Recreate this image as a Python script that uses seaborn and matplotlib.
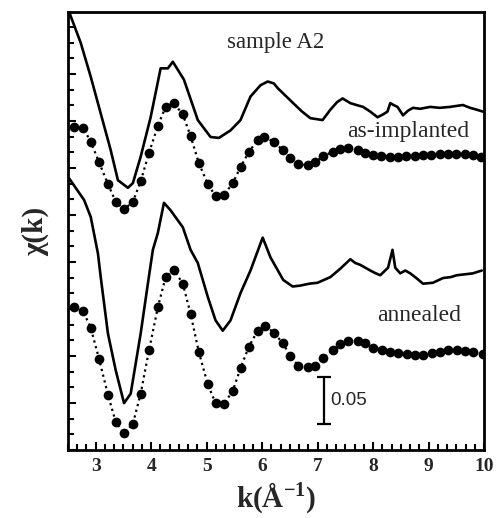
import numpy as np
import pandas as pd
import matplotlib
matplotlib.use("Agg")
import matplotlib.pyplot as plt
from matplotlib.ticker import MultipleLocator, AutoMinorLocator, NullFormatter
import seaborn as sns

# ---------------- data (chi relative to each curve's baseline) ----------------
k_exp_implanted = [2.52, 2.73, 2.91, 3.09, 3.27, 3.40, 3.58, 3.67, 3.81, 3.99, 4.17, 4.30, 4.39,
                   4.59, 4.84, 5.07, 5.22, 5.43, 5.61, 5.79, 5.97, 6.10, 6.21, 6.28, 6.42, 6.56,
                   6.72, 6.87, 7.09, 7.23, 7.35, 7.45, 7.59, 7.70, 7.82, 7.95, 8.08, 8.18, 8.26,
                   8.31, 8.37, 8.44, 8.54, 8.63, 8.72, 8.85, 9.03, 9.20, 9.39, 9.50, 9.62, 9.75,
                   9.87, 9.98]
chi_exp_implanted = [0.149, 0.116, 0.080, 0.041, 0.002, -0.030, -0.038, -0.033, -0.005, 0.037,
                     0.089, 0.089, 0.096, 0.077, 0.034, 0.016, 0.015, 0.023, 0.034, 0.059, 0.071,
                     0.075, 0.073, 0.068, 0.060, 0.052, 0.043, 0.036, 0.034, 0.045, 0.053, 0.057,
                     0.052, 0.050, 0.048, 0.043, 0.037, 0.040, 0.043, 0.052, 0.050, 0.048, 0.039,
                     0.044, 0.047, 0.046, 0.048, 0.047, 0.048, 0.049, 0.050, 0.047, 0.045, 0.043]

k_fit_implanted = [2.61, 2.77, 2.91, 3.06, 3.22, 3.36, 3.51, 3.67, 3.81, 3.96, 4.12, 4.26, 4.41,
                   4.57, 4.71, 4.86, 5.02, 5.16, 5.31, 5.47, 5.61, 5.76, 5.92, 6.03, 6.21, 6.37,
                   6.51, 6.65, 6.82, 6.96, 7.10, 7.27, 7.41, 7.55, 7.72, 7.86, 8.00, 8.15, 8.30,
                   8.45, 8.60, 8.75, 8.90, 9.05, 9.20, 9.35, 9.50, 9.65, 9.80, 9.95]
chi_fit_implanted = [0.027, 0.026, 0.011, -0.011, -0.034, -0.053, -0.061, -0.053, -0.031, -0.001,
                     0.028, 0.048, 0.052, 0.040, 0.017, -0.012, -0.034, -0.047, -0.046, -0.033,
                     -0.016, 0.000, 0.013, 0.016, 0.011, 0.002, -0.006, -0.013, -0.014, -0.011,
                     -0.004, 0.000, 0.003, 0.004, 0.002, -0.001, -0.003, -0.004, -0.005, -0.005,
                     -0.004, -0.004, -0.003, -0.003, -0.002, -0.002, -0.002, -0.002, -0.003, -0.005]

k_exp_annealed = [2.52, 2.79, 2.91, 3.04, 3.09, 3.22, 3.36, 3.51, 3.63, 3.81, 3.94, 4.03, 4.12,
                  4.23, 4.35, 4.57, 4.71, 4.84, 5.02, 5.16, 5.29, 5.43, 5.61, 5.79, 6.01, 6.15,
                  6.38, 6.55, 6.69, 6.85, 7.00, 7.23, 7.41, 7.59, 7.68, 7.77, 7.95, 8.05, 8.13,
                  8.27, 8.35, 8.40, 8.49, 8.58, 8.67, 8.78, 8.90, 9.08, 9.26, 9.40, 9.51, 9.66,
                  9.80, 9.96]
chi_exp_annealed = [0.185, 0.162, 0.144, 0.105, 0.080, 0.020, -0.019, -0.054, -0.044, 0.020,
                    0.073, 0.109, 0.127, 0.159, 0.151, 0.133, 0.109, 0.095, 0.059, 0.034, 0.023,
                    0.034, 0.063, 0.087, 0.122, 0.101, 0.077, 0.070, 0.071, 0.073, 0.074, 0.080,
                    0.089, 0.099, 0.095, 0.093, 0.087, 0.084, 0.082, 0.090, 0.109, 0.090, 0.084,
                    0.087, 0.084, 0.079, 0.073, 0.074, 0.079, 0.080, 0.082, 0.083, 0.084, 0.087]

k_fit_annealed = [2.61, 2.77, 2.91, 3.06, 3.22, 3.36, 3.51, 3.67, 3.81, 3.96, 4.12, 4.26, 4.41,
                  4.57, 4.71, 4.86, 5.02, 5.16, 5.31, 5.47, 5.61, 5.76, 5.92, 6.06, 6.21, 6.37,
                  6.51, 6.65, 6.82, 6.96, 7.10, 7.27, 7.41, 7.55, 7.72, 7.86, 8.00, 8.17, 8.31,
                  8.45, 8.62, 8.76, 8.90, 9.06, 9.21, 9.35, 9.51, 9.66, 9.80, 9.98]
chi_fit_annealed = [0.048, 0.044, 0.026, -0.007, -0.045, -0.074, -0.086, -0.076, -0.044, 0.002,
                    0.048, 0.080, 0.088, 0.073, 0.041, 0.000, -0.034, -0.054, -0.055, -0.041,
                    -0.017, 0.006, 0.023, 0.028, 0.021, 0.010, -0.004, -0.014, -0.016, -0.014,
                    -0.006, 0.002, 0.009, 0.012, 0.012, 0.010, 0.005, 0.003, 0.000, -0.001,
                    -0.002, -0.003, -0.003, -0.001, 0.000, 0.002, 0.002, 0.001, 0.000, -0.002]

offset_implanted = 0.317
offset_annealed = 0.104
x_ticks = [3, 4, 5, 6, 7, 8, 9, 10]
scale_bar = 0.05

# ---------------- plot ----------------
sns.set_style("ticks")
plt.rcParams["font.family"] = ["Liberation Serif", "DejaVu Serif"]

fig = plt.figure(figsize=(5.0, 5.18), dpi=100)
ax = fig.add_axes([0.136, 0.131, 0.832, 0.846])

def solid(k, chi, off):
    df = pd.DataFrame({"k": k, "chi": np.asarray(chi) + off})
    sns.lineplot(data=df, x="k", y="chi", ax=ax, color="black", lw=1.9, sort=False)

def fit(k, chi, off):
    df = pd.DataFrame({"k": k, "chi": np.asarray(chi) + off})
    sns.lineplot(data=df, x="k", y="chi", ax=ax, color="black", lw=1.6, linestyle=":",
                 marker="o", markersize=7.0, markeredgewidth=0, sort=False)

solid(k_exp_implanted, chi_exp_implanted, offset_implanted)
fit(k_fit_implanted, chi_fit_implanted, offset_implanted)
solid(k_exp_annealed, chi_exp_annealed, offset_annealed)
fit(k_fit_annealed, chi_fit_annealed, offset_annealed)

ax.set_xlim(2.5, 10)
ax.set_ylim(0, 0.466)

# scale bar
ax.errorbar([7.12], [0.0527], yerr=[scale_bar / 2], color="black", capsize=5,
            elinewidth=1.6, capthick=1.6)
ax.text(7.22, 0.0527, "0.05", family=["Liberation Sans", "DejaVu Sans"], fontsize=13.5,
        va="center", ha="left")

ax.text(6.24, 0.434, "sample A2", fontsize=16.5, ha="center", va="center")
ax.text(8.63, 0.339, "as-implanted", fontsize=17, ha="center", va="center")
ax.text(8.83, 0.143, "annealed", fontsize=17, ha="center", va="center")

ax.set_xticks(x_ticks)
ax.set_xticklabels([str(t) for t in x_ticks], fontsize=14, fontweight="bold")
ax.xaxis.set_minor_locator(AutoMinorLocator(6))
ax.yaxis.set_major_locator(MultipleLocator(0.05))
ax.yaxis.set_minor_locator(MultipleLocator(0.05 / 3))
ax.yaxis.set_major_formatter(NullFormatter())
ax.tick_params(axis="both", which="both", direction="in", top=False, right=False,
               width=1.5, color="black")
ax.tick_params(axis="both", which="major", length=6)
ax.tick_params(axis="both", which="minor", length=4)
ax.tick_params(axis="x", pad=6)

for s in ax.spines.values():
    s.set_linewidth(2.0)
    s.set_color("black")

ax.set_xlabel("k(Å$^{\\mathregular{-1}}$)", fontsize=21, fontweight="bold", labelpad=4)
ax.set_ylabel("χ(k)", fontsize=21, fontweight="bold", labelpad=10)

fig.savefig("out.png", dpi=100)
